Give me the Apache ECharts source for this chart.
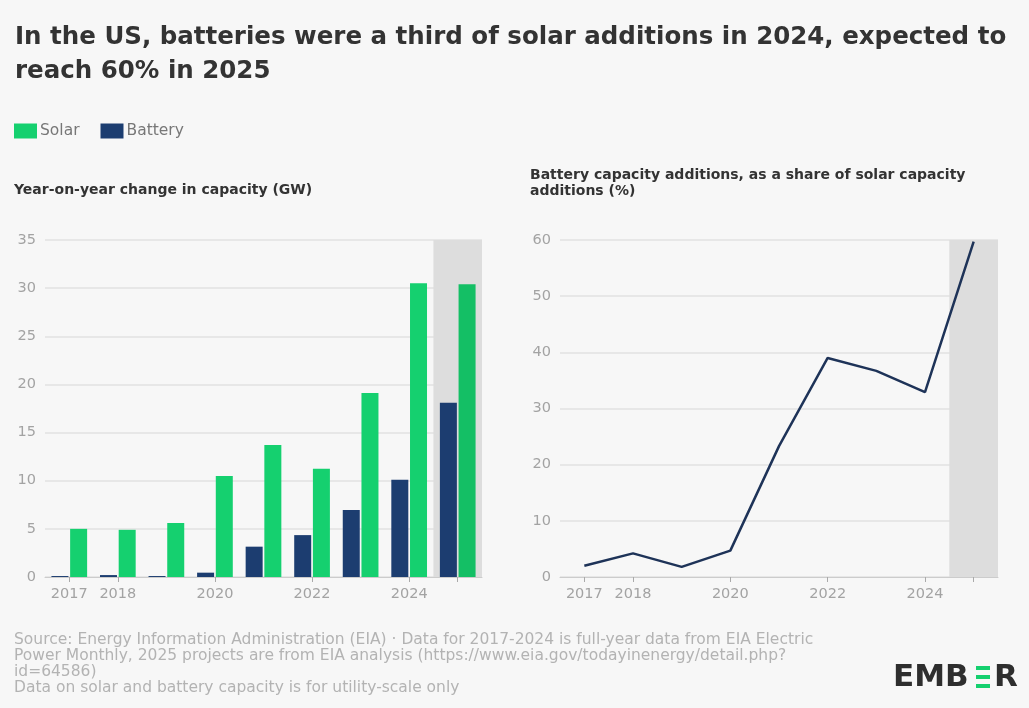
<!DOCTYPE html>
<html>
<head>
<meta charset="utf-8">
<script src="https://cdn.jsdelivr.net/npm/echarts@6/dist/echarts.min.js"></script>
<style>
  html, body { margin: 0; padding: 0; background: #f7f7f7; }
  #chart { width: 1029px; height: 708px; }
</style>
</head>
<body>
<div id="chart"></div>
<script>
// ---- Data ----
const years = ['2017', '2018', '2019', '2020', '2021', '2022', '2023', '2024', '2025'];
const shownYearLabels = ['2017', '2018', '2020', '2022', '2024'];
const tickYears = ['2017', '2018', '2020', '2022', '2024', '2025'];
const solarGW = [5.0, 4.9, 5.6, 10.5, 13.7, 11.25, 19.1, 30.5, 30.4];
const batteryGW = [0.1, 0.2, 0.1, 0.45, 3.15, 4.35, 6.95, 10.1, 18.1];
const batteryShare = [2.0, 4.2, 1.8, 4.7, 23.3, 39.0, 36.7, 32.9, 59.7];
const projectedYears = ['2025'];
const leftMax = 35, leftStep = 5;
const rightMax = 60, rightStep = 10;

const SOLAR = '#15d06f';
const BATTERY = '#1c3d70';
const LINE = '#1e3358';
const SHADE = '#dddddd';
const FONT = '"DejaVu Sans", "Noto Sans", sans-serif';

const chart = echarts.init(document.getElementById('chart'), null, { renderer: 'canvas' });

function xAxisCfg(gridIndex, show) {
  return {
    type: 'category', gridIndex: gridIndex, data: years, show: show,
    axisLine: { show: true, lineStyle: { color: '#cccccc', width: 1 } },
    axisTick: {
      show: true, alignWithLabel: true, length: 5, lineStyle: { color: '#aaaaaa' },
      interval: (i, v) => tickYears.indexOf(v) >= 0
    },
    axisLabel: {
      color: '#a3a3a3', fontFamily: FONT, fontSize: 14.5, margin: 10,
      interval: (i, v) => shownYearLabels.indexOf(v) >= 0
    },
    splitLine: { show: false }
  };
}
function hiddenX(gridIndex) {
  return { type: 'category', gridIndex: gridIndex, data: years, show: false };
}
function yAxisCfg(gridIndex, max, step) {
  return {
    type: 'value', gridIndex: gridIndex, min: 0, max: max, interval: step,
    axisLine: { show: false }, axisTick: { show: false },
    axisLabel: { color: '#a3a3a3', fontFamily: FONT, fontSize: 14.5, margin: 9 },
    splitLine: { lineStyle: { color: '#e2e2e2', width: 1.5 } }
  };
}

const shadeLeft = years.map(y => projectedYears.indexOf(y) >= 0 ? leftMax : '-');
const shadeRight = years.map(y => projectedYears.indexOf(y) >= 0 ? rightMax : '-');

const option = {
  backgroundColor: '#f7f7f7',
  animation: false,
  textStyle: { fontFamily: FONT },
  title: [
    {
      text: 'In the US, batteries were a third of solar additions in 2024, expected to\nreach 60% in 2025',
      left: 15, top: 21, padding: 0,
      textStyle: { fontFamily: FONT, fontSize: 24.5, fontWeight: 'bold', color: '#333333', lineHeight: 34 }
    },
    {
      text: 'Year-on-year change in capacity (GW)',
      left: 14, top: 182, padding: 0,
      textStyle: { fontFamily: FONT, fontSize: 14, fontWeight: 'bold', color: '#333333', lineHeight: 16 }
    },
    {
      text: 'Battery capacity additions, as a share of solar capacity\nadditions (%)',
      left: 530, top: 167, padding: 0,
      textStyle: { fontFamily: FONT, fontSize: 14, fontWeight: 'bold', color: '#333333', lineHeight: 16.5 }
    },
    {
      text: 'Source: Energy Information Administration (EIA) · Data for 2017-2024 is full-year data from EIA Electric\nPower Monthly, 2025 projects are from EIA analysis (https://www.eia.gov/todayinenergy/detail.php?\nid=64586)\nData on solar and battery capacity is for utility-scale only',
      left: 14, top: 632, padding: 0,
      textStyle: { fontFamily: FONT, fontSize: 15.5, fontWeight: 'normal', color: '#b3b3b3', lineHeight: 16 }
    }
  ],
  legend: {
    left: 14, top: 123, padding: 0, itemWidth: 23, itemHeight: 15, itemGap: 21,
    icon: 'rect',
    data: ['Solar', 'Battery'],
    textStyle: { fontFamily: FONT, fontSize: 15.5, color: '#777777', padding: [0, 0, 0, -2] }
  },
  grid: [
    { left: 45, right: 547, top: 240, bottom: 131 },
    { left: 560, right: 31, top: 240, bottom: 131 }
  ],
  xAxis: [xAxisCfg(0, true), hiddenX(0), xAxisCfg(1, true), hiddenX(1)],
  yAxis: [yAxisCfg(0, leftMax, leftStep), yAxisCfg(1, rightMax, rightStep)],
  series: [
    {
      name: 'shadeL', type: 'bar', xAxisIndex: 1, yAxisIndex: 0, data: shadeLeft,
      barWidth: '100%', itemStyle: { color: SHADE }, z: 1, silent: true
    },
    {
      name: 'Battery', type: 'bar', xAxisIndex: 0, yAxisIndex: 0, data: batteryGW,
      barWidth: 17, barGap: '10%', itemStyle: { color: BATTERY }, z: 3
    },
    {
      name: 'Solar', type: 'bar', xAxisIndex: 0, yAxisIndex: 0,
      data: solarGW.map((v, i) => projectedYears.indexOf(years[i]) >= 0 ? { value: v, itemStyle: { color: '#14bf65' } } : v),
      barWidth: 17, barGap: '10%', itemStyle: { color: SOLAR }, z: 3
    },
    {
      name: 'shadeR', type: 'bar', xAxisIndex: 3, yAxisIndex: 1, data: shadeRight,
      barWidth: '100%', itemStyle: { color: SHADE }, z: 1, silent: true
    },
    {
      name: 'Share', type: 'line', xAxisIndex: 2, yAxisIndex: 1, data: batteryShare,
      showSymbol: false, lineStyle: { color: LINE, width: 2.5 }, z: 3
    }
  ],
  graphic: [
    { type: 'text', left: 893, top: 662, style: { text: 'EMB', fontFamily: '"DejaVu Sans", sans-serif', fontWeight: 'bold', fontSize: 31, fill: '#2e2e2e' } },
    { type: 'rect', shape: { x: 976, y: 666, width: 14, height: 4 }, style: { fill: '#15d06f' } },
    { type: 'rect', shape: { x: 976, y: 675, width: 14, height: 4 }, style: { fill: '#15d06f' } },
    { type: 'rect', shape: { x: 976, y: 684, width: 14, height: 4 }, style: { fill: '#15d06f' } },
    { type: 'text', left: 994, top: 662, style: { text: 'R', fontFamily: '"DejaVu Sans", sans-serif', fontWeight: 'bold', fontSize: 31, fill: '#2e2e2e' } }
  ]
};
chart.setOption(option);
</script>
</body>
</html>
